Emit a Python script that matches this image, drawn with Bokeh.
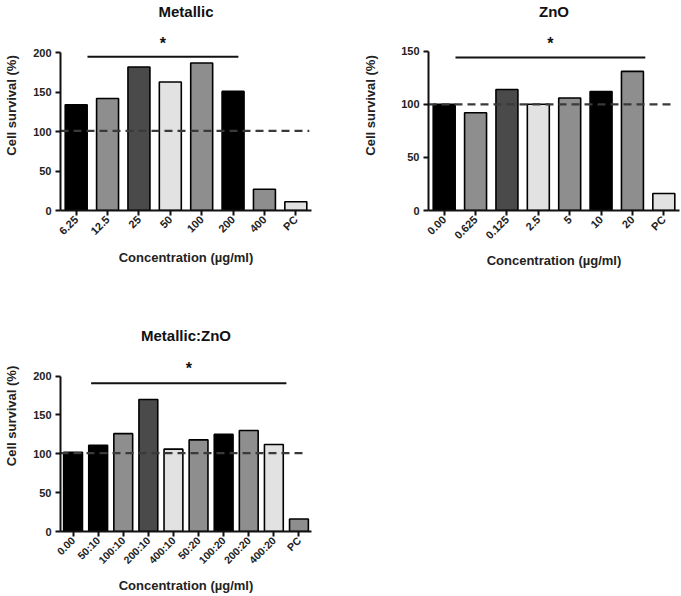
import math
from bokeh.plotting import figure
from bokeh.models import Range1d, FixedTicker, ColumnDataSource
from bokeh.layouts import column, row
from bokeh.embed import file_html
from bokeh.resources import INLINE
from bokeh.core.properties import value

BLACK = "#000000"
GRAY = "#8e8e8e"
DARK = "#4a4a4a"
LIGHT = "#e2e2e2"

# ---- data ----
met_labels = ["6.25", "12.5", "25", "50", "100", "200", "400", "PC"]
met_values = [134, 142, 182, 163, 187, 151, 27, 11]
met_colors = [BLACK, GRAY, DARK, LIGHT, GRAY, BLACK, GRAY, LIGHT]

zno_labels = ["0.00", "0.625", "0.125", "2.5", "5", "10", "20", "PC"]
zno_values = [100, 92, 114, 100, 106, 112, 131, 16]
zno_colors = [BLACK, GRAY, DARK, LIGHT, GRAY, BLACK, GRAY, LIGHT]

mz_labels = ["0.00", "50:10", "100:10", "200:10", "400:10", "50:20", "100:20", "200:20", "400:20", "PC"]
mz_values = [102, 111, 126, 170, 106, 118, 125, 130, 112, 16]
mz_colors = [BLACK, BLACK, GRAY, DARK, LIGHT, GRAY, BLACK, GRAY, LIGHT, GRAY]

met_ref = 101
zno_ref = 100
mz_ref = 101

# significance bar: (start, end, level)
met_sig = (0.86, 5.67, 195)
zno_sig = (0.86, 6.91, 144)
mz_sig = (1.22, 9.0, 191)

met_yticks = [0, 50, 100, 150, 200]
zno_yticks = [0, 50, 100, 150]
mz_yticks = [0, 50, 100, 150, 200]

FONT = "Liberation Sans"


def panel(title, labels, values, colors, ref, sig, yticks, width, height,
          bl, br, bb, y_end, title_y, star_off, dash_end, bar_w, ylab_standoff,
          xlab_standoff, xtick_size, xtick_standoff):
    n = len(labels)
    p = figure(width=width, height=height, output_backend="svg", toolbar_location=None,
               x_range=Range1d(0, n), y_range=Range1d(0, y_end),
               min_border_left=bl, min_border_right=br, min_border_bottom=bb,
               min_border_top=0)
    p.outline_line_color = None
    p.grid.visible = False
    p.background_fill_color = "white"
    p.border_fill_color = "white"
    xs = [i + 0.5 for i in range(n)]
    src = ColumnDataSource(dict(x=xs, top=values, color=colors))
    p.vbar(x="x", top="top", width=bar_w, bottom=0, source=src,
           fill_color="color", line_color="black", line_width=1.6)
    # reference dashed line
    p.line([0, dash_end], [ref, ref], line_color="#3a3a3a", line_width=2.2, line_dash="8 5")
    # significance line and star
    p.line([sig[0], sig[1]], [sig[2], sig[2]], line_color="#111111", line_width=2)
    p.text(x=[(sig[0] + sig[1]) / 2], y=[sig[2] + star_off], text=["*"],
           text_font=value(FONT), text_font_style="bold", text_font_size="16px",
           text_align="center", text_baseline="middle", text_color="#111111")
    # title
    p.text(x=[n / 2], y=[title_y], text=[title],
           text_font=value(FONT), text_font_style="bold", text_font_size="15px",
           text_align="center", text_baseline="middle", text_color="#111111")
    # axes
    xa = p.xaxis[0]
    xa.ticker = FixedTicker(ticks=xs)
    xa.major_label_overrides = {x: l for x, l in zip(xs, labels)}
    xa.major_label_orientation = math.pi / 4
    xa.bounds = (0, n)
    ya = p.yaxis[0]
    ya.ticker = FixedTicker(ticks=yticks)
    ya.bounds = (0, yticks[-1])
    for ax in (xa, ya):
        ax.axis_line_width = 2
        ax.axis_line_color = "#111111"
        ax.major_tick_line_width = 2
        ax.major_tick_line_color = "#111111"
        ax.major_tick_out = 5
        ax.major_tick_in = 0
        ax.minor_tick_line_color = None
        ax.major_label_text_font = FONT
        ax.major_label_text_font_style = "bold"
        ax.major_label_text_font_size = "11px"
        ax.major_label_text_color = "#222222"
        ax.axis_label_text_font = FONT
        ax.axis_label_text_font_style = "bold"
        ax.axis_label_text_font_size = "13px"
        ax.axis_label_text_color = "#222222"
    xa.major_label_text_font_size = xtick_size
    xa.axis_label = "Concentration (µg/ml)"
    ya.axis_label = "Cell survival (%)"
    xa.major_label_standoff = xtick_standoff
    ya.major_label_standoff = 4
    xa.axis_label_standoff = xlab_standoff
    ya.axis_label_standoff = ylab_standoff
    return p


# Metallic: frame page x 60..311, y0 at page 213, 0.8 px/unit
p1 = panel("Metallic", met_labels, met_values, met_colors, met_ref, met_sig, met_yticks,
           width=340, height=300, bl=60, br=29, bb=87,
           y_end=213 / 0.8, title_y=(213 - 11) / 0.8, star_off=17, dash_end=7.93, bar_w=0.70,
           ylab_standoff=11, xlab_standoff=6, xtick_size="11px", xtick_standoff=2)

# ZnO: frame page x 428..679, y0 at page 210, 1.062 px/unit
p2 = panel("ZnO", zno_labels, zno_values, zno_colors, zno_ref, zno_sig, zno_yticks,
           width=341, height=300, bl=88, br=2, bb=90,
           y_end=210 / 1.062, title_y=(210 - 11) / 1.062, star_off=13, dash_end=7.85, bar_w=0.70,
           ylab_standoff=20, xlab_standoff=5, xtick_size="11px", xtick_standoff=2)

# Metallic:ZnO: frame page x 60..311, y0 at page 533 (fig 233), 0.7835 px/unit
p3 = panel("Metallic:ZnO", mz_labels, mz_values, mz_colors, mz_ref, mz_sig, mz_yticks,
           width=340, height=296, bl=60, br=29, bb=63,
           y_end=233 / 0.7835, title_y=(233 - 35) / 0.7835, star_off=19, dash_end=9.84, bar_w=0.75,
           ylab_standoff=11, xlab_standoff=5, xtick_size="10.5px", xtick_standoff=2)

layout = column(row(p1, p2), p3)
open("out.html", "w").write(file_html(layout, INLINE))
